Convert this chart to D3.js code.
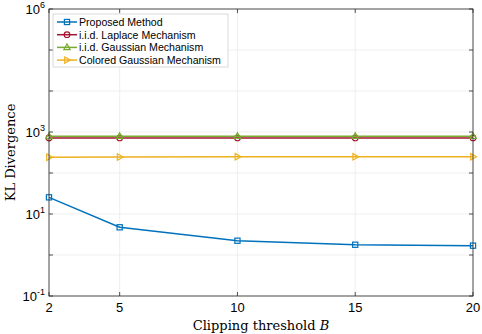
<!DOCTYPE html>
<html>
<head>
<meta charset="utf-8">
<script src="https://cdn.jsdelivr.net/npm/d3@7"></script>
<style>
  body { margin: 0; background: #fff; }
  svg { display: block; }
</style>
</head>
<body>
<svg id="chart"></svg>
<script>
// Chart data
const thresholds = [2, 5, 10, 15, 20];
const proposed = [25.5, 4.74, 2.23, 1.78, 1.69];
const laplace = [714, 716, 716, 716, 716];
const gaussian = [785, 790, 790, 790, 790];
const colored = [242, 246, 248, 248, 248];
const seriesNames = ['Proposed Method', 'i.i.d. Laplace Mechanism', 'i.i.d. Gaussian Mechanism', 'Colored Gaussian Mechanism'];
const xTicks = [2, 5, 10, 15, 20];
const yGrid = [0.1, 1, 10, 100, 1000, 1e4, 1e5, 1e6];
const yLabelExp = [-1, 1, 3, 6];

const W = 482, H = 334;
const M = { left: 49, right: 9, top: 9, bottom: 38 };

const svg = d3.select('#chart').attr('width', W).attr('height', H);

const x = d3.scaleLinear().domain([2, 20]).range([M.left, W - M.right]);
const y = d3.scaleLog().domain([0.1, 1e6]).range([H - M.bottom, M.top]);

const axisColor = '#262626';
const sans = 'Liberation Sans, Arial, sans-serif';
const serif = 'DejaVu Serif, Liberation Serif, serif';

// Grid lines
svg.append('g').selectAll('line.gx')
  .data(xTicks).enter().append('line')
  .attr('x1', d => x(d)).attr('x2', d => x(d))
  .attr('y1', M.top).attr('y2', H - M.bottom)
  .attr('stroke', '#ebebeb').attr('stroke-width', 0.8);

svg.append('g').selectAll('line.gy')
  .data(yGrid).enter().append('line')
  .attr('x1', M.left).attr('x2', W - M.right)
  .attr('y1', d => y(d)).attr('y2', d => y(d))
  .attr('stroke', '#ebebeb').attr('stroke-width', 0.8);

// Series
const series = [
  { name: seriesNames[0], values: proposed, color: '#0072BD', marker: 'square' },
  { name: seriesNames[1], values: laplace, color: '#A2142F', marker: 'circle' },
  { name: seriesNames[2], values: gaussian, color: '#77AC30', marker: 'triangle' },
  { name: seriesNames[3], values: colored, color: '#EDB120', marker: 'right' }
];

function drawMarker(g, type, cx, cy, color) {
  if (type === 'square') {
    g.append('rect').attr('x', cx - 2.6).attr('y', cy - 2.6).attr('width', 5.2).attr('height', 5.2)
      .attr('fill', 'none').attr('stroke', color).attr('stroke-width', 1.2);
  } else if (type === 'circle') {
    g.append('circle').attr('cx', cx).attr('cy', cy).attr('r', 2.8)
      .attr('fill', 'none').attr('stroke', color).attr('stroke-width', 1.2);
  } else if (type === 'triangle') {
    g.append('path').attr('d', `M${cx},${cy - 3.5}L${cx + 3.2},${cy + 2.3}L${cx - 3.2},${cy + 2.3}Z`)
      .attr('fill', 'none').attr('stroke', color).attr('stroke-width', 1.2);
  } else if (type === 'right') {
    g.append('path').attr('d', `M${cx + 3.5},${cy}L${cx - 2.3},${cy - 3.2}L${cx - 2.3},${cy + 3.2}Z`)
      .attr('fill', 'none').attr('stroke', color).attr('stroke-width', 1.2);
  }
}

const line = d3.line().x(d => x(d[0])).y(d => y(d[1]));

series.forEach(s => {
  const pts = thresholds.map((t, i) => [t, s.values[i]]);
  const g = svg.append('g');
  g.append('path').datum(pts).attr('d', line)
    .attr('fill', 'none').attr('stroke', s.color).attr('stroke-width', 1.5);
  pts.forEach(p => drawMarker(g, s.marker, x(p[0]), y(p[1]), s.color));
});

// Axes box
const box = svg.append('g');
box.append('rect')
  .attr('x', M.left).attr('y', M.top)
  .attr('width', W - M.left - M.right).attr('height', H - M.top - M.bottom)
  .attr('fill', 'none').attr('stroke', axisColor).attr('stroke-width', 0.8);

// Inner ticks
xTicks.forEach(t => {
  box.append('line').attr('x1', x(t)).attr('x2', x(t))
    .attr('y1', H - M.bottom).attr('y2', H - M.bottom - 4).attr('stroke', axisColor).attr('stroke-width', 0.8);
  box.append('line').attr('x1', x(t)).attr('x2', x(t))
    .attr('y1', M.top).attr('y2', M.top + 4).attr('stroke', axisColor).attr('stroke-width', 0.8);
});
yGrid.forEach(v => {
  box.append('line').attr('x1', M.left).attr('x2', M.left + 4)
    .attr('y1', y(v)).attr('y2', y(v)).attr('stroke', axisColor).attr('stroke-width', 0.8);
  box.append('line').attr('x1', W - M.right).attr('x2', W - M.right - 4)
    .attr('y1', y(v)).attr('y2', y(v)).attr('stroke', axisColor).attr('stroke-width', 0.8);
});

// Tick labels
svg.append('g').selectAll('text')
  .data(xTicks).enter().append('text')
  .attr('x', d => x(d)).attr('y', H - M.bottom + 16)
  .attr('text-anchor', 'middle')
  .attr('font-family', sans).attr('font-size', 13).attr('fill', '#000')
  .text(d => d);

yLabelExp.forEach(e => {
  const t = svg.append('text')
    .attr('x', M.left - 4).attr('y', y(Math.pow(10, e)) + 5)
    .attr('text-anchor', 'end')
    .attr('font-family', sans).attr('font-size', 13).attr('fill', '#000');
  t.append('tspan').text('10');
  t.append('tspan').attr('dy', -6).attr('font-size', 9).text(e);
});

// Axis titles
const xt = svg.append('text')
  .attr('x', (M.left + W - M.right) / 2).attr('y', H - 4)
  .attr('text-anchor', 'middle')
  .attr('font-family', serif).attr('font-size', 13).attr('fill', '#000');
xt.append('tspan').text('Clipping threshold ');
xt.append('tspan').attr('font-style', 'italic').text('B');

svg.append('text')
  .attr('transform', `translate(15,${(M.top + H - M.bottom) / 2}) rotate(-90)`)
  .attr('text-anchor', 'middle')
  .attr('font-family', serif).attr('font-size', 13).attr('fill', '#000')
  .text('KL Divergence');

// Legend
const leg = svg.append('g');
leg.append('rect').attr('x', 53).attr('y', 14).attr('width', 175).attr('height', 53)
  .attr('fill', '#fff').attr('stroke', '#d0d0d0').attr('stroke-width', 0.8);
series.forEach((s, i) => {
  const ly = 22 + i * 12.7;
  leg.append('line').attr('x1', 57).attr('x2', 77).attr('y1', ly).attr('y2', ly)
    .attr('stroke', s.color).attr('stroke-width', 1.5);
  drawMarker(leg, s.marker, 67, ly, s.color);
  leg.append('text').attr('x', 79).attr('y', ly + 4)
    .attr('font-family', sans).attr('font-size', 10.6).attr('fill', '#000')
    .text(s.name);
});
</script>
</body>
</html>
